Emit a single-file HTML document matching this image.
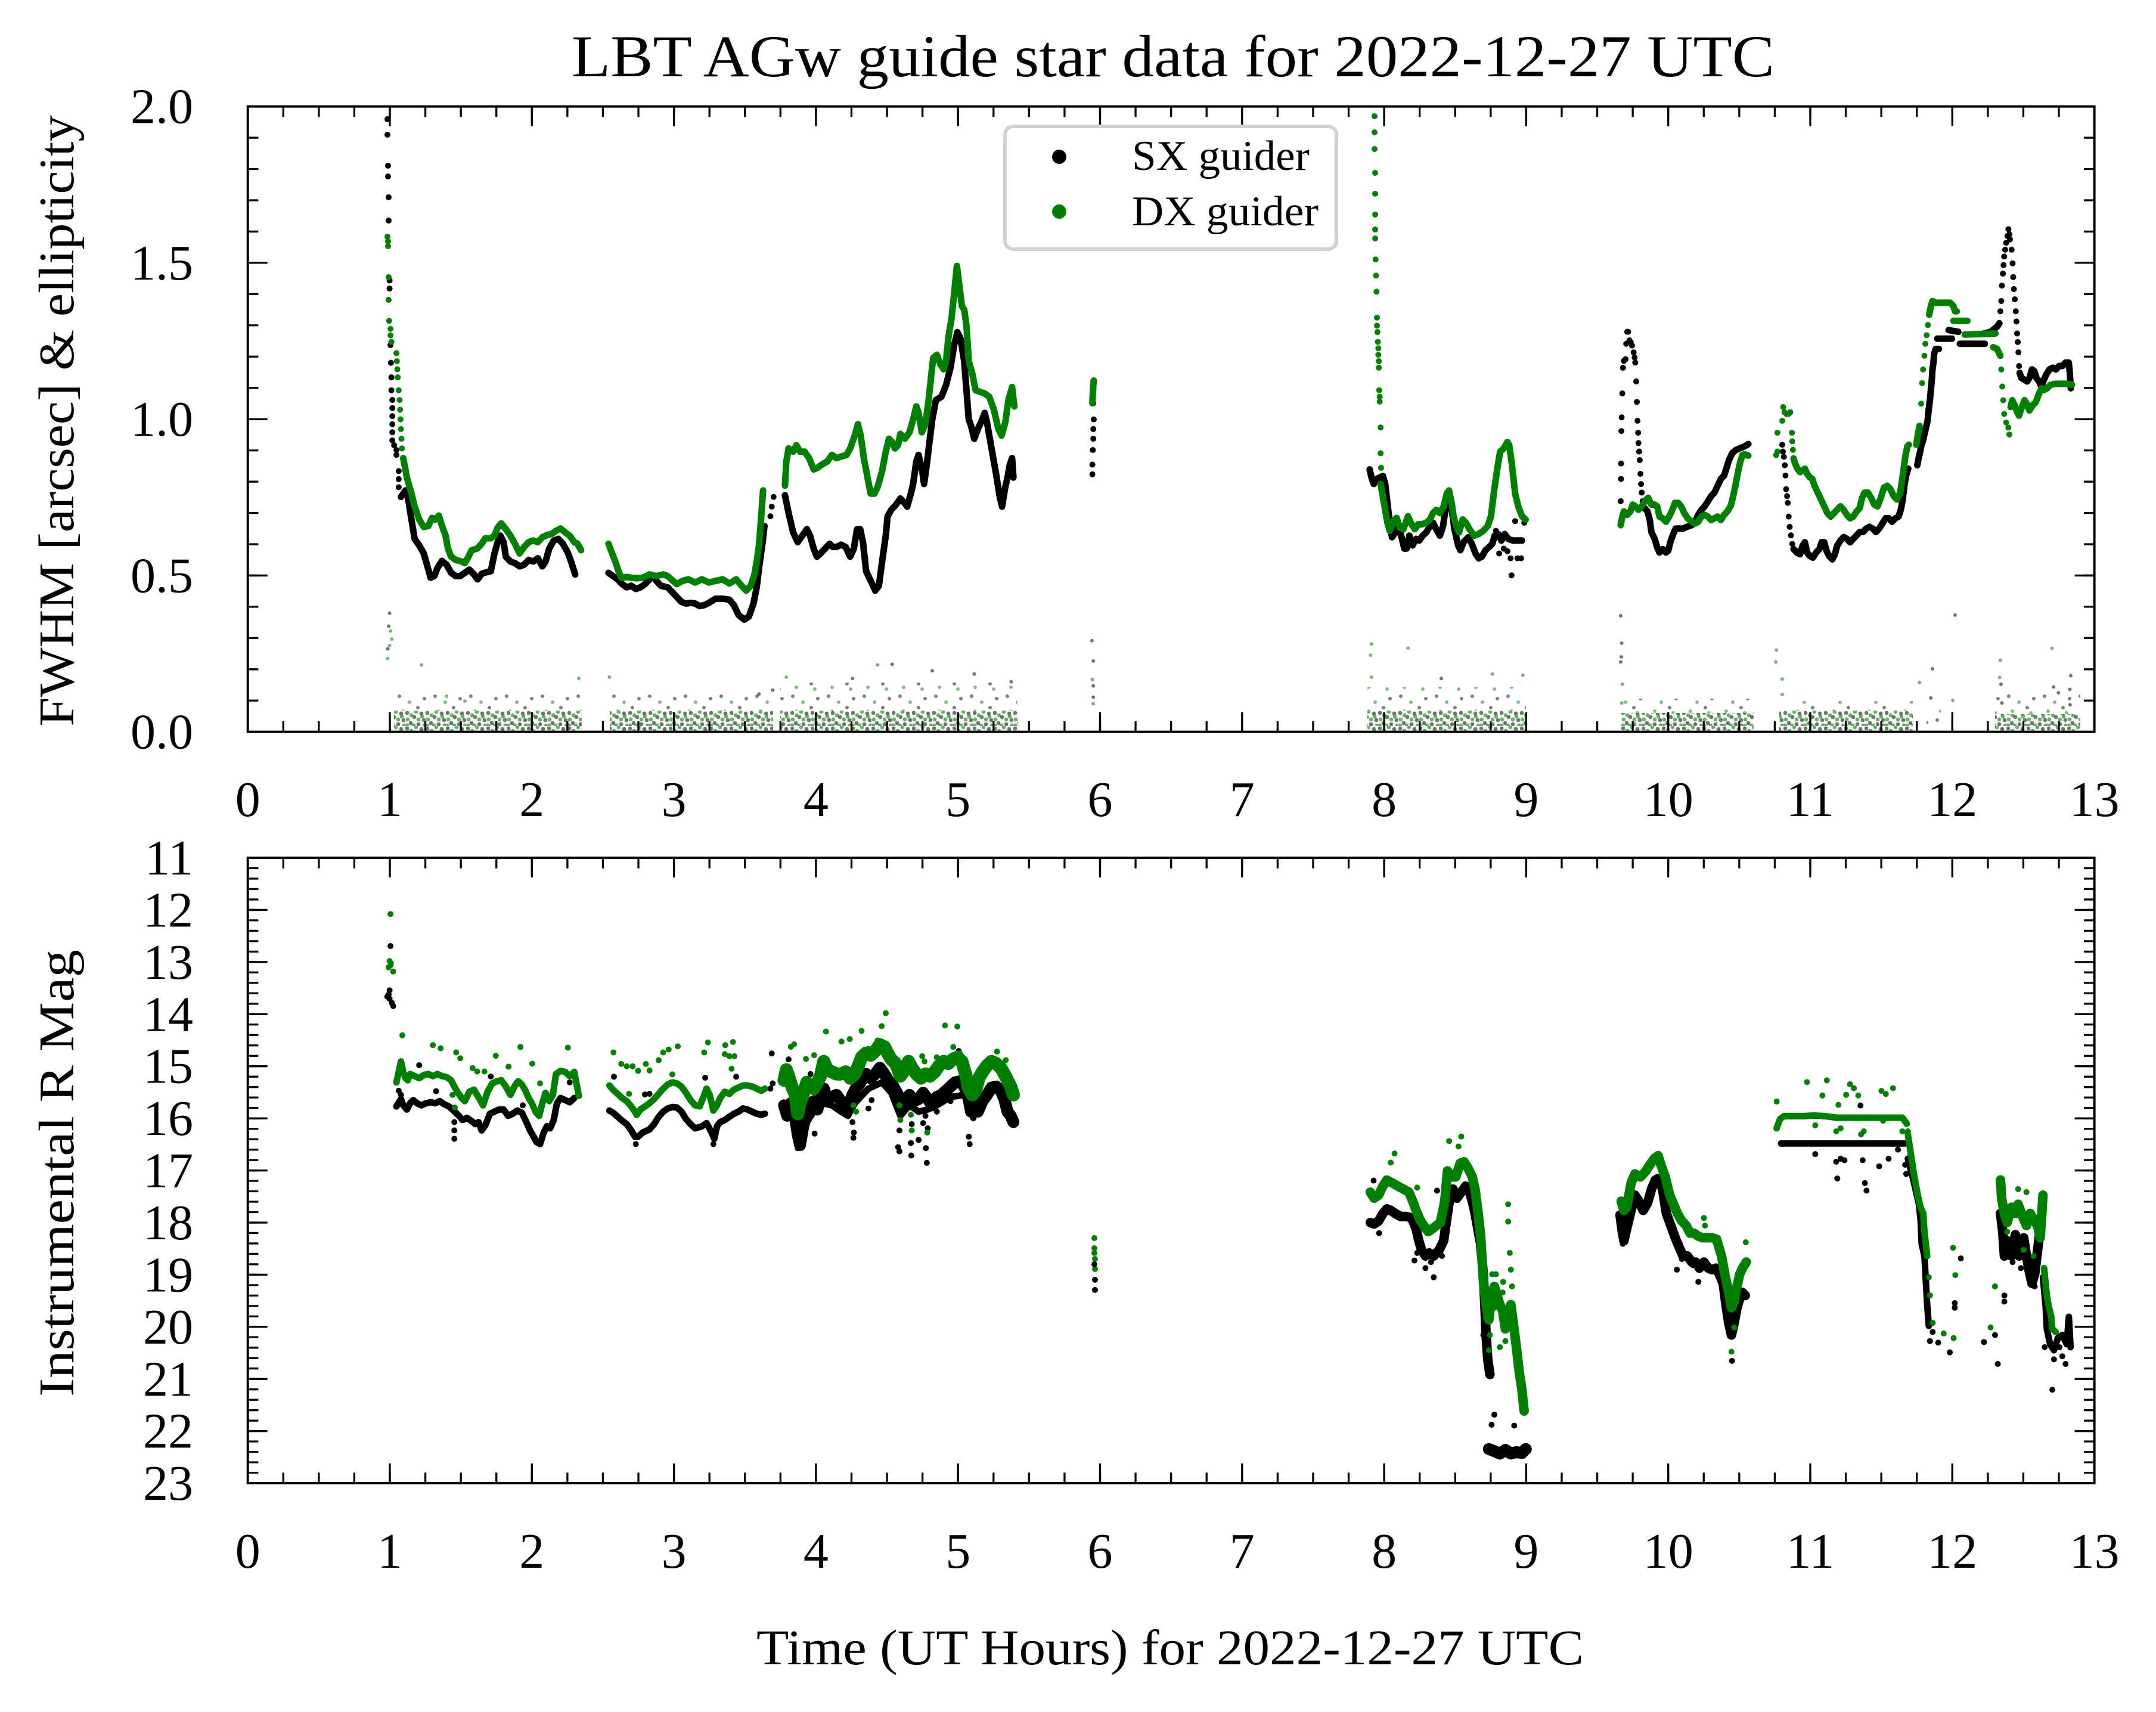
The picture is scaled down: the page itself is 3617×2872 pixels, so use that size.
<!DOCTYPE html>
<html><head><meta charset="utf-8"><style>
html,body{margin:0;padding:0;background:#fff}
svg{display:block}
text{font-family:"Liberation Serif","DejaVu Serif",serif;fill:#000}
.z polyline,.z path{vector-effect:non-scaling-stroke;fill:none;stroke-linejoin:round;stroke-linecap:round}
.k{stroke:#000;stroke-width:11}
.g{stroke:#008000;stroke-width:11}
.kd{stroke:#000;stroke-width:10}
.gd{stroke:#008000;stroke-width:10}
.kw{stroke:#000;stroke-width:20}
.gw{stroke:#008000;stroke-width:22}
.kv{stroke:#000;stroke-width:16}
.gv{stroke:#008000;stroke-width:16}
.kn{stroke:rgba(0,0,0,0.55);stroke-width:6}
.gn{stroke:rgba(0,128,0,0.55);stroke-width:6}
</style></head><body>
<svg xmlns="http://www.w3.org/2000/svg" width="3617" height="2872" viewBox="0 0 3617 2872">
<defs>
<pattern id="nd" x="0" y="1192" width="34" height="26" patternUnits="userSpaceOnUse">
<g fill="rgba(0,0,0,0.55)"><circle cx="3" cy="4" r="3.4"/><circle cx="15" cy="11" r="3.4"/><circle cx="27" cy="5" r="3.4"/><circle cx="9" cy="21" r="3.4"/><circle cx="22" cy="23" r="3.4"/><circle cx="31" cy="16" r="3.4"/></g>
<g fill="rgba(0,128,0,0.6)"><circle cx="10" cy="8" r="3.4"/><circle cx="22" cy="15" r="3.4"/><circle cx="32" cy="25" r="3.4"/><circle cx="4" cy="15" r="3.4"/><circle cx="18" cy="2" r="3.4"/><circle cx="28" cy="10" r="3.4"/><circle cx="14" cy="25" r="3.4"/><circle cx="3" cy="25" r="3.4"/></g>
</pattern>
<pattern id="ns" x="0" y="0" width="60" height="40" patternUnits="userSpaceOnUse">
<g fill="rgba(0,0,0,0.5)"><circle cx="10" cy="8" r="3"/><circle cx="41" cy="27" r="3"/><circle cx="52" cy="12" r="3"/></g>
<g fill="rgba(0,128,0,0.5)"><circle cx="27" cy="18" r="3"/><circle cx="47" cy="36" r="3"/><circle cx="16" cy="33" r="3"/></g>
</pattern>
</defs>
<rect width="3617" height="2872" fill="#fff"/>

<!-- Title -->
<text x="959" y="128" font-size="100" textLength="2018" lengthAdjust="spacingAndGlyphs">LBT AGw guide star data for 2022-12-27 UTC</text>

<!-- ===== TOP PLOT NOISE ===== -->
<g>
<rect x="661" y="1192" width="315" height="34" fill="url(#nd)"/>
<rect x="661" y="1165" width="315" height="27" fill="url(#ns)"/>
<rect x="1023" y="1192" width="274" height="34" fill="url(#nd)"/>
<rect x="1023" y="1165" width="274" height="27" fill="url(#ns)"/>
<rect x="1309" y="1192" width="398" height="34" fill="url(#nd)"/>
<rect x="1309" y="1145" width="398" height="47" fill="url(#ns)"/>
<rect x="2294" y="1192" width="266" height="34" fill="url(#nd)"/>
<rect x="2294" y="1152" width="266" height="40" fill="url(#ns)"/>
<rect x="2720" y="1196" width="222" height="30" fill="url(#nd)"/>
<rect x="2720" y="1172" width="222" height="24" fill="url(#ns)"/>
<rect x="2985" y="1192" width="224" height="34" fill="url(#nd)"/>
<rect x="2985" y="1176" width="224" height="16" fill="url(#ns)"/>
<rect x="3347" y="1198" width="143" height="28" fill="url(#nd)"/>
<rect x="3347" y="1165" width="143" height="33" fill="url(#ns)"/>
<rect x="3232" y="1180" width="24" height="46" fill="url(#ns)"/>
</g>

<!-- ===== TOP PLOT DATA ===== -->
<g class="z">
<path class="kd" d="M650 200h.01M650 226h.01M651 278h.01M651 296h.01M652 331h.01M652 370h.01"/>
<path class="gd" d="M650 397h.01M651 405h.01M651 413h.01"/>
<path class="gd" d="M2306 195h.01M2306 222h.01M2306 250h.01M2307 290h.01M2307 325h.01M2307 360h.01M2307 385h.01"/>
</g>

<g class="z" transform="translate(600 400) scale(0.7651 0.542)">
<path class="kn" d="M70 1160h.01M68 1200h.01M66 1270h.01M1172 1318h.01M1085 1362h.01M1260 1338h.01M1352 1348h.01M1433 1372h.01M880 1410h.01M910 1398h.01"/>
<path class="gn" d="M72 1215h.01M75 1240h.01M70 1260h.01M66 1300h.01M140 1320h.01M195 1417h.01M235 1432h.01M485 1362h.01M552 1358h.01M940 1358h.01M1140 1320h.01"/>
<path class="kd" d="M70 130h.01M70 155h.01M72 330h.01M73 385h.01M74 430h.01M74 470h.01M76 500h.01M76 525h.01M76 550h.01M76 575h.01M76 600h.01M76 625h.01M80 640h.01M85 655h.01M85 670h.01M90 720h.01M90 745h.01M90 770h.01M905 860h.01M908 830h.01M912 800h.01"/>
<polyline class="k" points="95,800 105,780 110,800 118,870 125,930 135,950 145,975 152,1010 160,1050 168,1045 175,1020 185,998 195,1010 205,1035 215,1045 225,1045 235,1035 245,1025 255,1040 263,1055 272,1038 285,1032 292,1030 300,975 308,935 313,920 320,940 325,985 335,1000 345,1005 355,1015 365,1010 375,995 385,1000 395,990 405,1015 412,1000 420,960 430,935 440,930 450,945 460,970 468,1000 477,1040"/>
<polyline class="k" points="550,1035 560,1045 570,1055 580,1070 590,1080 600,1075 610,1085 620,1080 630,1070 640,1055 648,1045 655,1060 665,1075 680,1080 690,1095 700,1110 710,1125 720,1130 730,1128 740,1130 750,1138 760,1135 770,1128 785,1115 800,1115 815,1118 825,1135 835,1165 848,1180 858,1170 868,1130 875,1080 882,1000 888,940 892,890"/>
<polyline class="k" points="937,795 945,850 955,910 965,940 975,920 985,900 992,920 1000,960 1007,985 1015,975 1025,960 1035,945 1042,955 1050,955 1060,948 1070,955 1080,985 1088,960 1095,900 1102,900 1108,940 1115,1030 1125,1060 1135,1090 1143,1075 1150,1000 1158,920 1162,860 1170,840 1180,825 1190,805 1200,820 1205,830 1213,790 1218,760 1225,690 1230,670 1238,720 1242,760 1248,700 1253,640 1260,560 1268,500 1280,490 1290,455 1300,400 1308,330 1315,290 1322,310 1330,380 1335,470 1340,560 1345,580 1352,620 1360,590 1368,565 1375,540 1380,570 1390,650 1400,730 1408,800 1413,830 1420,770 1425,740 1430,700 1435,680 1438,740"/>
<path class="gd" d="M68 120h.01M68 190h.01M69 255h.01M72 280h.01M72 300h.01M74 320h.01M85 355h.01M86 380h.01M87 405h.01M88 430h.01M90 470h.01M92 500h.01M93 530h.01M94 560h.01M95 590h.01M96 620h.01M97 650h.01"/>
<polyline class="g" points="100,680 108,740 118,790 125,830 135,870 145,893 155,890 163,865 170,870 178,858 185,890 193,920 198,960 205,985 215,995 228,1000 235,1005 243,985 250,965 262,960 272,945 280,928 292,928 300,920 307,895 315,882 325,900 335,920 345,945 355,975 365,955 375,940 385,935 395,940 405,925 415,918 425,915 435,905 445,898 455,910 465,920 475,940 482,945 490,965"/>
<polyline class="g" points="550,945 558,975 565,1000 572,1030 578,1050 590,1048 600,1050 612,1052 625,1050 640,1040 655,1045 670,1040 680,1045 690,1058 700,1070 712,1060 725,1055 740,1065 755,1055 770,1065 785,1060 800,1055 815,1068 830,1055 842,1075 852,1090 862,1075 870,1040 875,1000 880,950 884,880 887,820 889,780"/>
<polyline class="g" points="937,765 940,690 945,650 955,660 962,640 970,660 980,660 990,680 1000,715 1008,710 1018,700 1030,690 1040,670 1050,680 1060,675 1072,670 1080,650 1090,610 1097,575 1103,610 1110,680 1118,740 1125,790 1133,790 1140,770 1150,720 1158,660 1165,620 1172,630 1178,650 1185,640 1190,605 1200,620 1210,600 1218,560 1225,520 1230,540 1237,600 1245,575 1252,500 1258,420 1262,370 1270,360 1278,390 1285,405 1290,380 1296,300 1302,250 1308,170 1314,85 1318,130 1325,210 1330,220 1335,270 1340,380 1348,420 1355,470 1365,475 1375,480 1385,490 1395,530 1405,590 1412,610 1420,570 1427,500 1435,460 1440,520"/>
</g>

<g class="z" transform="translate(1750 400) scale(0.7651 0.542)">
<path class="kn" d="M107 1245h.01M110 1308h.01M110 1385h.01M110 1420h.01M873 1362h.01"/>
<path class="gn" d="M108 1365h.01M110 1440h.01M720 1255h.01M718 1290h.01M800 1268h.01M720 1358h.01M985 1348h.01M1052 1352h.01"/>
<path class="kd" d="M110 510h.01M111 560h.01M110 590h.01M110 620h.01M109 655h.01M108 700h.01M108 730h.01M993 905h.01M1000 975h.01M1010 960h.01M1018 968h.01M1025 990h.01M1027 1043h.01M1040 990h.01M1048 990h.01M1035 875h.01M1055 880h.01M1058 872h.01"/>
<polyline class="k" points="716,715 720,740 725,760 730,745 738,740 745,735 750,760 755,820 760,880 765,925 770,915 778,890 785,920 792,960 797,960 803,920 810,950 818,930 825,935 832,920 840,910 848,890 855,880 862,900 870,920 877,890 884,820 890,790 896,840 902,900 910,950 915,965 922,940 932,925 940,945 948,975 955,990 962,985 970,965 978,955 985,945 990,920 998,915 1005,935 1012,915 1020,930 1030,935 1040,935 1050,935"/>
<polyline class="g" points="108,510 109,480 110,455 111,440"/>
<path class="gd" d="M728 0h.01M729 65h.01M730 115h.01M731 165h.01M732 245h.01M732 270h.01M733 290h.01M734 320h.01M735 340h.01M735 360h.01M736 380h.01M736 400h.01M737 470h.01M738 490h.01M738 505h.01M740 585h.01M740 665h.01M741 710h.01"/>
<polyline class="g" points="740,760 745,800 750,840 755,880 760,905 768,875 775,865 782,895 790,900 800,860 808,885 815,900 822,885 830,885 840,880 848,870 855,850 862,840 870,850 878,830 885,790 890,780 896,820 900,860 906,890 912,910 920,870 927,880 935,900 945,920 955,915 965,905 975,890 982,860 988,790 995,720 1002,660 1010,650 1018,630 1022,640 1028,700 1035,790 1042,830 1050,860 1058,870"/>
</g>

<g class="z" transform="translate(2700 350) scale(0.542 0.574)">
<path class="kn" d="M35 1190h.01M38 1270h.01M37 1310h.01M35 1325h.01M1070 1188h.01M1212 1390h.01M1215 1445h.01M1428 1365h.01M1425 1405h.01M1426 1450h.01M1375 1398h.01M1390 1415h.01M1000 1345h.01M995 1430h.01"/>
<path class="gn" d="M40 1390h.01M38 1445h.01M517 1290h.01M515 1325h.01M535 1375h.01M535 1420h.01M1063 1437h.01M1210 1320h.01M1208 1370h.01M1370 1285h.01M960 1385h.01"/>
<path class="kd" d="M35 855h.01M36 790h.01M36 745h.01M37 650h.01M38 610h.01M40 540h.01M42 465h.01M45 445h.01M50 440h.01M52 395h.01M55 360h.01M58 360h.01M62 385h.01M66 390h.01M70 400h.01M75 420h.01M78 435h.01M80 450h.01M83 505h.01M85 565h.01M87 620h.01M89 655h.01M90 685h.01M92 710h.01M94 735h.01M96 775h.01M98 805h.01M100 830h.01M103 855h.01M535 690h.01M537 710h.01M540 725h.01M543 750h.01M545 780h.01M547 820h.01M550 840h.01M552 860h.01M555 900h.01M558 930h.01M562 955h.01M566 980h.01M1210 300h.01M1213 270h.01M1215 225h.01M1218 190h.01M1220 165h.01M1222 140h.01M1225 120h.01M1228 100h.01M1232 80h.01M1235 60h.01M1238 75h.01M1240 90h.01M1245 120h.01M1248 160h.01M1250 200h.01M1252 235h.01M1255 265h.01M1258 300h.01M1260 330h.01M1262 365h.01M1264 390h.01M1266 420h.01M1268 460h.01"/>
<polyline class="k" points="108,875 118,885 125,910 130,945 140,965 148,990 155,1005 165,995 175,1005 182,1000 190,970 198,950 205,935 215,935 228,935 240,930 255,925 265,915 275,895 285,880 295,870 305,855 315,840 325,830 335,810 345,790 355,780 362,760 370,735 380,715 392,705 405,700 418,695 430,688"/>
<polyline class="k" points="570,995 580,1005 590,1010 598,985 605,975 612,1005 620,1015 630,1020 640,1005 650,995 657,975 665,975 672,1000 680,1015 690,1025 698,1010 705,985 715,970 725,960 735,965 745,975 755,965 765,955 775,945 785,945 795,935 805,930 815,935 825,945 835,935 845,920 855,905 865,905 875,915 885,905 895,900 902,880 908,850 913,810 918,780 925,760"/>
<polyline class="k" points="953,750 957,730 962,710 966,690 970,680 975,660 980,640 985,620 988,590 992,560 995,530 998,500 1000,470 1003,450 1005,425 1010,410 1020,410"/>
<polyline class="k" points="1015,380 1060,380"/>
<polyline class="k" points="1050,355 1080,360"/>
<polyline class="k" points="1085,395 1162,395"/>
<polyline class="k" points="1160,365 1180,360 1200,345 1207,335"/>
<polyline class="k" points="1270,480 1275,495 1285,500 1293,505 1300,495 1308,470 1315,475 1322,495 1330,505 1337,520 1345,500 1352,485 1362,470 1372,465 1382,470 1392,460 1402,460 1412,450 1422,450 1425,480 1428,525"/>
<polyline class="g" points="35,925 40,900 45,885 55,895 65,885 72,865 80,870 90,880 100,870 110,855 120,845 130,865 140,865 148,870 155,900 165,905 175,915 185,900 195,880 203,860 213,860 222,870 232,890 242,905 255,915 265,920 275,915 285,900 295,895 305,900 315,910 325,905 335,900 345,910 355,895 365,885 375,870 382,845 390,810 398,770 405,740 412,720 420,718 430,722"/>
<path class="gd" d="M516 720h.01M520 710h.01M520 655h.01M535 620h.01M538 580h.01M542 595h.01M548 600h.01M555 600h.01M560 595h.01M565 655h.01M566 680h.01M568 705h.01M965 570h.01M968 510h.01M971 470h.01M975 430h.01M978 395h.01M982 370h.01M986 340h.01M1213 470h.01M1216 520h.01M1219 560h.01M1222 600h.01M1228 625h.01M1235 640h.01M1238 660h.01"/>
<polyline class="g" points="570,730 575,745 582,760 590,770 598,765 605,760 612,775 620,785 628,790 635,810 645,830 655,850 665,870 675,890 685,900 695,890 705,880 715,870 725,880 735,895 745,905 755,900 765,885 775,875 782,845 790,830 800,830 810,845 820,865 830,870 840,845 850,815 860,810 870,820 880,840 890,850 900,830 908,780 915,730 922,695 927,690"/>
<polyline class="g" points="950,690 955,660 960,635"/>
<polyline class="g" points="990,310 995,285 1000,270 1010,275 1025,275 1040,275 1055,275 1065,285 1070,300 1075,300"/>
<polyline class="g" points="1065,328 1108,328"/>
<polyline class="g" points="1100,368 1195,365"/>
<polyline class="g" points="1188,405 1200,410 1210,430"/>
<polyline class="g" points="1242,580 1247,560 1255,575 1262,595 1268,605 1275,585 1285,560 1292,570 1300,590 1310,575 1320,565 1330,540 1338,525 1345,530 1355,525 1365,515 1380,512 1400,512 1420,512 1432,515"/>
</g>

<!-- ===== BOTTOM PLOT DATA ===== -->
<g class="z">
<path class="gd" d="M1836 2077h.01M1836 2094h.01M1837 2112h.01M1837 2129h.01M1836 2102h.01"/>
<path class="kd" d="M1836 2121h.01M1837 2147h.01M1837 2164h.01"/>
</g>

<g class="z" transform="translate(600 1500) scale(0.7651 0.3508)">
<path class="kd" d="M72 248h.01M70 460h.01M65 490h.01M70 500h.01M75 520h.01M78 535h.01M68 480h.01M135 818h.01M172 942h.01M292 872h.01M362 1010h.01M212 1090h.01M212 1130h.01M212 1170h.01M465 900h.01M90 940h.01M95 960h.01M562 873h.01M630 958h.01M640 955h.01M610 1195h.01M780 1195h.01M762 878h.01M830 873h.01M905 930h.01M910 905h.01M908 762h.01M945 790h.01M965 1215h.01M1002 1145h.01M1087 1165h.01M1120 1025h.01M1127 985h.01M1188 1230h.01M1214 1250h.01M1248 1285h.01M1246 1215h.01M1230 1175h.01M1215 1100h.01M1240 1095h.01M1342 1195h.01M1318 750h.01M993 860h.01M1188 1130h.01M1245 1060h.01M1085 1090h.01M1088 1140h.01M1185 1210h.01M1213 1190h.01M968 1180h.01M975 1130h.01M1340 1160h.01M1270 1040h.01M1300 990h.01M1195 1040h.01M1250 1120h.01"/>
<polyline class="k" points="85,1015 95,980 100,1010 108,1030 115,1000 122,985 130,1000 140,1010 150,1000 160,995 170,1000 180,990 190,1005 200,1015 208,1030 215,1045 222,1060 230,1080 240,1070 250,1085 258,1100 265,1090 272,1130 280,1105 290,1050 300,1040 310,1030 320,1030 330,1060 340,1050 350,1035 360,1045 370,1090 378,1130 386,1160 392,1185 400,1195 408,1140 415,1110 422,1120 430,1080 437,1000 445,975 455,985 465,995 475,975"/>
<polyline class="k" points="552,1035 560,1045 568,1060 578,1080 590,1100 600,1130 608,1160 615,1160 625,1140 640,1125 650,1100 660,1065 670,1040 680,1025 690,1018 700,1020 710,1040 720,1075 730,1100 740,1120 748,1115 755,1110 765,1095 775,1135 782,1170 788,1110 795,1090 805,1080 815,1065 825,1050 835,1040 845,1025 855,1030 865,1040 875,1050 885,1055 893,1050"/>
<polyline class="kw" points="935,1010 942,1060 950,1000 958,1050 965,1150 970,1200 977,1110 985,1050 992,1010 1000,990 1008,1030 1015,980 1022,930 1030,980 1040,970 1050,960 1060,990 1070,1030 1078,1000 1085,960 1092,930 1100,910 1108,880 1115,860 1125,880 1135,860 1145,830 1155,860 1165,895 1175,920 1185,960 1192,1020 1200,1000 1210,960 1220,990 1230,980 1240,950 1250,980 1260,1010 1270,970 1280,960 1290,940 1300,920 1310,900 1320,895 1330,920 1338,960 1345,1040 1352,1000 1360,1040 1370,990 1380,960 1390,925 1400,920 1410,940 1418,980 1425,1040 1432,1060 1438,1090"/>
<polyline class="k" points="965,1100 975,1160 985,1090 1000,1040 1020,1000 1040,1010 1060,1040 1075,1060 1090,1000 1120,930 1150,900 1170,950 1190,1060 1210,1010 1230,1040 1250,1030 1270,1010 1300,970 1330,960 1350,1070"/>
<path class="gd" d="M72 95h.01M70 320h.01M68 350h.01M72 340h.01M78 370h.01M73 330h.01M98 675h.01M165 722h.01M182 737h.01M216 757h.01M225 785h.01M252 832h.01M262 848h.01M278 848h.01M303 773h.01M331 825h.01M357 731h.01M383 811h.01M400 905h.01M461 734h.01M213 1020h.01M208 960h.01M561 757h.01M578 812h.01M590 823h.01M603 823h.01M615 845h.01M632 812h.01M640 843h.01M660 794h.01M670 757h.01M682 743h.01M702 728h.01M690 862h.01M760 757h.01M768 709h.01M806 722h.01M823 707h.01M805 765h.01M815 775h.01M826 775h.01M820 835h.01M595 955h.01M950 730h.01M957 718h.01M1001 770h.01M983 788h.01M1027 657h.01M1061 705h.01M1079 693h.01M1105 654h.01M1149 631h.01M1158 569h.01M1288 628h.01M1315 633h.01M1306 731h.01M1402 753h.01M1421 794h.01M1188 1010h.01M1190 1080h.01M1213 1055h.01M1215 1130h.01M1249 1140h.01M1087 1010h.01M1093 1040h.01M1238 775h.01M1243 800h.01M1140 700h.01M1165 735h.01M1120 740h.01M1270 780h.01M1320 760h.01"/>
<polyline class="g" points="85,900 90,850 95,800 100,850 105,880 110,890 115,860 125,870 135,880 145,865 155,860 165,870 175,860 185,870 195,875 205,890 212,920 220,950 228,975 235,990 245,945 255,935 262,960 270,990 275,1010 285,945 295,905 305,895 315,890 325,920 335,960 345,915 352,895 360,910 368,940 375,975 382,1000 390,1040 398,1060 405,1000 412,950 420,990 428,960 435,860 445,845 455,850 465,870 475,850 485,965"/>
<polyline class="g" points="552,915 560,935 570,955 580,975 590,990 598,1010 605,1030 612,1055 620,1030 630,1015 640,1000 650,980 660,955 670,930 680,910 690,900 700,905 710,920 720,950 730,985 740,1010 750,1015 760,960 765,930 772,960 780,1035 788,1010 795,975 805,945 815,955 825,935 835,925 845,915 855,915 865,920 875,930 885,940 893,930"/>
<polyline class="gw" points="935,890 940,840 945,870 952,920 960,960 965,1050 970,1000 978,950 985,900 992,920 1000,930 1008,900 1015,870 1022,800 1030,840 1040,850 1050,860 1060,860 1070,850 1080,880 1090,860 1098,820 1105,780 1115,760 1125,770 1135,750 1145,720 1155,730 1162,760 1170,790 1180,810 1190,870 1200,840 1208,800 1215,830 1225,860 1235,880 1245,860 1255,870 1265,850 1275,820 1285,800 1295,810 1305,790 1315,780 1325,800 1333,860 1340,930 1348,960 1355,940 1362,880 1370,850 1380,820 1390,800 1400,810 1410,830 1418,860 1425,890 1432,920 1438,960"/>
</g>

<g class="z" transform="translate(2100 1750) scale(0.925 0.51)">
<path class="kd" d="M221 452h.01M231 625h.01M295 715h.01M315 740h.01M330 770h.01M336 485h.01M440 1222h.01M435 1255h.01M476 1258h.01M345 700h.01M771 745h.01M810 785h.01M871 1045h.01M673 660h.01M860 900h.01M865 950h.01M1022 365h.01M1060 390h.01M1062 445h.01M1068 380h.01M1075 385h.01M1108 385h.01M1112 460h.01M1115 485h.01M1138 405h.01M1155 380h.01M1185 400h.01M1187 430h.01M1172 350h.01M1104 205h.01M1266 1017h.01M1275 855h.01M1275 870h.01M1286 708h.01M1328 983h.01M1348 960h.01M1353 1055h.01M1365 830h.01M1365 850h.01M1452 1140h.01M1476 1055h.01M1470 1030h.01M1438 1000h.01M1230 980h.01M1245 985h.01M1235 950h.01M425 1000h.01M420 960h.01M300 690h.01M325 720h.01M780 710h.01M800 730h.01M840 750h.01M1380 720h.01M1395 740h.01M1415 780h.01M1420 800h.01M1465 1000h.01M1455 1040h.01"/>
<polyline class="kv" points="215,590 222,595 230,585 238,560 245,545 252,550 260,560 270,570 280,570 290,575 298,610 303,650 308,680 315,700 322,690 330,700 340,680 348,650 355,560 360,500 365,480 372,510 380,490 388,470 395,490 400,520 405,560 410,610 415,660 420,760 423,870 425,960 428,1040 432,1090"/>
<polyline class="kw" points="430,1335 440,1342 450,1350 460,1338 470,1350 480,1345 490,1348 497,1335"/>
<polyline class="kv" points="668,565 672,620 675,650 680,610 688,550 695,500 702,520 710,550 718,525 725,480 732,450 738,445 745,480 752,560 760,600 768,640 775,670 782,700 790,700 798,720 805,720 812,740 820,720 828,740 835,745 842,740 848,760 855,790 860,860 865,920 870,960 875,920 880,870 885,840 890,820 895,830"/>
<polyline class="k" points="960,330 1000,330 1040,330 1080,330 1120,330 1160,330 1185,330"/>
<polyline class="k" points="1190,380 1200,450 1210,530 1213,580 1215,660 1220,700 1225,860 1228,930"/>
<polyline class="kv" points="1358,560 1362,620 1365,700 1370,650 1378,700 1385,630 1392,700 1400,640 1405,700 1410,750 1415,790 1420,760 1428,640 1433,560"/>
<polyline class="k" points="1435,770 1440,870 1442,940 1448,990 1455,1010 1462,970 1470,960 1478,990 1482,900 1485,1000"/>
<path class="gd" d="M465 530h.01M465 587h.01M468 690h.01M470 745h.01M472 800h.01M436 760h.01M443 760h.01M450 1000h.01M430 1010h.01M358 322h.01M380 307h.01M375 340h.01M259 363h.01M252 393h.01M300 475h.01M456 785h.01M820 575h.01M822 600h.01M896 655h.01M870 1015h.01M875 935h.01M855 765h.01M1022 270h.01M1060 290h.01M1068 280h.01M1105 300h.01M1110 290h.01M1145 255h.01M1180 290h.01M1190 290h.01M1007 128h.01M1043 122h.01M1035 172h.01M1064 203h.01M1078 170h.01M1085 135h.01M1092 148h.01M1100 172h.01M1142 157h.01M1150 167h.01M1163 148h.01M952 192h.01M1255 955h.01M1272 673h.01M1276 763h.01M1273 970h.01M1340 935h.01M1348 800h.01M1235 920h.01M1228 770h.01M1230 830h.01M420 830h.01M425 900h.01M432 960h.01M440 870h.01M455 820h.01M460 980h.01M1390 480h.01M1405 490h.01M1435 500h.01M1370 620h.01M1400 680h.01M1418 700h.01"/>
<polyline class="gv" points="215,490 222,510 230,500 238,470 245,450 255,460 265,470 275,480 285,490 292,520 298,550 305,580 312,600 320,620 328,610 335,600 342,590 350,520 355,420 362,440 370,440 378,395 385,390 392,410 400,440 405,480 410,550 415,630 420,780 425,860 430,910 435,830 440,800 445,830 450,860 455,880 460,940 465,880 470,860 475,930 480,1000 485,1080 490,1140 494,1210"/>
<polyline class="gv" points="670,520 675,550 680,540 688,460 695,430 705,440 715,420 722,400 730,380 737,370 742,400 750,440 758,500 765,530 772,560 780,585 788,600 795,625 802,625 810,635 818,640 826,640 835,640 843,645 852,700 858,760 865,820 870,870 875,850 880,800 885,760 890,740 897,720"/>
<polyline class="g" points="952,280 958,250 965,240 980,240 1000,240 1020,238 1040,240 1060,245 1080,245 1100,245 1120,245 1140,245 1160,245 1180,245 1188,265"/>
<polyline class="g" points="1190,300 1200,420 1208,500 1213,540 1218,560 1220,620 1225,700"/>
<polyline class="gv" points="1358,450 1360,510 1365,560 1370,590 1378,540 1385,560 1390,530 1398,570 1405,600 1412,560 1418,580 1425,600 1430,640 1435,500"/>
<polyline class="g" points="1437,740 1442,830 1445,860 1450,900 1452,940 1458,950"/>
</g>

<!-- ===== AXES FRAMES ===== -->
<g fill="none" stroke="#000">
<rect x="415.7" y="178.6" width="3097.9" height="1049.1" stroke-width="4"/>
<rect x="415.7" y="1439" width="3097.9" height="1049.1" stroke-width="4"/>
<line x1="414.05" y1="1218.85" x2="3515.25" y2="1218.85" stroke-width="17.7" stroke-dasharray="3.3 56.275"/>
<line x1="414.05" y1="1211.2" x2="3515.25" y2="1211.2" stroke-width="33" stroke-dasharray="3.3 235"/>
<line x1="414.05" y1="187.45" x2="3515.25" y2="187.45" stroke-width="17.7" stroke-dasharray="3.3 56.275"/>
<line x1="414.05" y1="195.1" x2="3515.25" y2="195.1" stroke-width="33" stroke-dasharray="3.3 235"/>
<line x1="424.55" y1="176.95" x2="424.55" y2="1229.35" stroke-width="17.7" stroke-dasharray="3.3 49.155"/>
<line x1="432.2" y1="176.95" x2="432.2" y2="1229.35" stroke-width="33" stroke-dasharray="3.3 258.975"/>
<line x1="3504.75" y1="176.95" x2="3504.75" y2="1229.35" stroke-width="17.7" stroke-dasharray="3.3 49.155"/>
<line x1="3497.1" y1="176.95" x2="3497.1" y2="1229.35" stroke-width="33" stroke-dasharray="3.3 258.975"/>
<line x1="414.05" y1="2479.25" x2="3515.25" y2="2479.25" stroke-width="17.7" stroke-dasharray="3.3 56.275"/>
<line x1="414.05" y1="2471.6" x2="3515.25" y2="2471.6" stroke-width="33" stroke-dasharray="3.3 235"/>
<line x1="414.05" y1="1447.85" x2="3515.25" y2="1447.85" stroke-width="17.7" stroke-dasharray="3.3 56.275"/>
<line x1="414.05" y1="1455.5" x2="3515.25" y2="1455.5" stroke-width="33" stroke-dasharray="3.3 235"/>
<line x1="424.55" y1="1437.35" x2="424.55" y2="2489.75" stroke-width="17.7" stroke-dasharray="3.3 14.185"/>
<line x1="432.2" y1="1437.35" x2="432.2" y2="2489.75" stroke-width="33" stroke-dasharray="3.3 84.125"/>
<line x1="3504.75" y1="1437.35" x2="3504.75" y2="2489.75" stroke-width="17.7" stroke-dasharray="3.3 14.185"/>
<line x1="3497.1" y1="1437.35" x2="3497.1" y2="2489.75" stroke-width="33" stroke-dasharray="3.3 84.125"/>
</g>

<!-- ===== LEGEND ===== -->
<rect x="1686" y="212" width="556" height="206" rx="14" ry="14" fill="#fff" stroke="#d0d0d0" stroke-width="6"/>
<circle cx="1777" cy="263" r="12" fill="#000"/>
<circle cx="1777" cy="355" r="12" fill="#008000"/>
<text x="1899" y="285" font-size="71" textLength="298" lengthAdjust="spacingAndGlyphs">SX guider</text>
<text x="1899" y="378" font-size="71" textLength="313" lengthAdjust="spacingAndGlyphs">DX guider</text>

<!-- ===== TICK LABELS ===== -->
<g font-size="84" text-anchor="end">
<text x="324" y="1255.7">0.0</text>
<text x="324" y="993.4">0.5</text>
<text x="324" y="731.2">1.0</text>
<text x="324" y="468.9">1.5</text>
<text x="324" y="206.6">2.0</text>
<text x="324" y="1467.0">11</text>
<text x="324" y="1554.4">12</text>
<text x="324" y="1641.9">13</text>
<text x="324" y="1729.3">14</text>
<text x="324" y="1816.7">15</text>
<text x="324" y="1904.1">16</text>
<text x="324" y="1991.6">17</text>
<text x="324" y="2079.0">18</text>
<text x="324" y="2166.4">19</text>
<text x="324" y="2253.8">20</text>
<text x="324" y="2341.3">21</text>
<text x="324" y="2428.7">22</text>
<text x="324" y="2516.1">23</text>
</g>
<g font-size="84" text-anchor="middle">
<text x="415.7" y="1369">0</text><text x="654.0" y="1369">1</text><text x="892.3" y="1369">2</text><text x="1130.6" y="1369">3</text><text x="1368.9" y="1369">4</text><text x="1607.2" y="1369">5</text><text x="1845.5" y="1369">6</text><text x="2083.8" y="1369">7</text><text x="2322.1" y="1369">8</text><text x="2560.4" y="1369">9</text><text x="2798.7" y="1369">10</text><text x="3037.0" y="1369">11</text><text x="3275.3" y="1369">12</text><text x="3513.6" y="1369">13</text>
<text x="415.7" y="2630">0</text><text x="654.0" y="2630">1</text><text x="892.3" y="2630">2</text><text x="1130.6" y="2630">3</text><text x="1368.9" y="2630">4</text><text x="1607.2" y="2630">5</text><text x="1845.5" y="2630">6</text><text x="2083.8" y="2630">7</text><text x="2322.1" y="2630">8</text><text x="2560.4" y="2630">9</text><text x="2798.7" y="2630">10</text><text x="3037.0" y="2630">11</text><text x="3275.3" y="2630">12</text><text x="3513.6" y="2630">13</text>
</g>

<!-- ===== AXIS LABELS ===== -->
<text transform="translate(123 706) rotate(-90)" text-anchor="middle" font-size="84" textLength="1025" lengthAdjust="spacingAndGlyphs">FWHM [arcsec] &amp; ellipticity</text>
<text transform="translate(123 1968) rotate(-90)" text-anchor="middle" font-size="84" textLength="750" lengthAdjust="spacingAndGlyphs">Instrumental R Mag</text>
<text x="1269" y="2792" font-size="84" textLength="1388" lengthAdjust="spacingAndGlyphs">Time (UT Hours) for 2022-12-27 UTC</text>
</svg>
</body></html>
